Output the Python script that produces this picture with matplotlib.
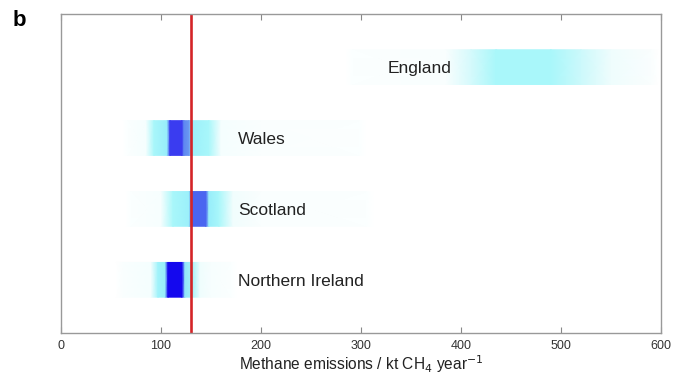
import numpy as np
import matplotlib
matplotlib.use("Agg")
from matplotlib import pyplot as plt
from matplotlib.colors import LinearSegmentedColormap

plt.rcParams['font.family'] = ['Liberation Sans', 'DejaVu Sans']

# regions, bottom to top
regions = ["Northern Ireland", "Scotland", "Wales", "England"]

# emission sample points (kt CH4/yr) and relative probability density
ni_x = [55, 62, 90, 97, 104, 107, 121, 124, 131, 139, 150, 170, 175]
ni_d = [0, 0.03, 0.05, 0.32, 0.34, 1.0, 1.0, 0.36, 0.32, 0.07, 0.04, 0.02, 0]

sc_x = [65, 70, 100, 112, 128, 131, 145, 148, 158, 172, 200, 305, 312]
sc_d = [0, 0.02, 0.04, 0.3, 0.33, 0.7, 0.7, 0.34, 0.3, 0.06, 0.03, 0.02, 0]

wa_x = [62, 67, 85, 93, 106, 109, 121, 123, 128, 131, 148, 160, 200, 298, 304]
wa_d = [0, 0.02, 0.05, 0.3, 0.34, 0.85, 0.85, 0.6, 0.55, 0.33, 0.3, 0.05, 0.025, 0.02, 0]

en_x = [285, 292, 385, 410, 435, 490, 520, 550, 590, 597]
en_d = [0, 0.02, 0.035, 0.15, 0.3, 0.3, 0.18, 0.07, 0.03, 0]

xs = [ni_x, sc_x, wa_x, en_x]
ds = [ni_d, sc_d, wa_d, en_d]
label_x = [177, 177, 177, 327]

# reference value (kt CH4/yr)
ref_value = 130

# white -> cyan -> blue
cmap = LinearSegmentedColormap.from_list("density", [
    (0.0, "#ffffff"),
    (0.04, "#f7fefe"),
    (0.1, "#e4fbfc"),
    (0.3, "#a8f7fa"),
    (0.34, "#98eefa"),
    (0.55, "#6a98f2"),
    (0.7, "#4a66f0"),
    (0.85, "#3a3cf0"),
    (1.0, "#1408ee"),
])

fig = plt.figure(figsize=(6.79, 3.81), dpi=100)
ax = fig.add_axes([0.0898, 0.126, 0.8837, 0.8374])

half = 0.245
for i, name in enumerate(regions):
    y0 = i + 1
    x = np.array(xs[i], dtype=float)
    d = np.array(ds[i], dtype=float)
    X, Y = np.meshgrid(x, [y0 - half, y0 + half])
    C = np.vstack([d, d])
    ax.pcolormesh(X, Y, C, cmap=cmap, vmin=0, vmax=1, shading="gouraud",
                  rasterized=True, zorder=1)
    ax.text(label_x[i], y0 - 0.02, name, fontsize=12.5, color="#222222",
            va="center", ha="left", zorder=3)

ax.plot([ref_value, ref_value], [0.27, 4.75], color="#d42428", lw=1.9, zorder=2)

ax.set_xlim(0, 600)
ax.set_ylim(0.25, 4.75)
ax.set_yticks([])
ax.set_xticks(np.arange(0, 601, 100))
ax.tick_params(axis="x", direction="in", top=True, length=4, width=0.8,
               color="#888888", labelsize=9, labelcolor="#333333", pad=5)
for s in ax.spines.values():
    s.set_color("#999999")
    s.set_linewidth(1.0)

ax.set_xlabel("Methane emissions / kt CH$_4$ year$^{-1}$", fontsize=11.2,
              color="#222222", labelpad=1)
fig.text(0.018, 0.945, "b", fontsize=16, fontweight="bold", va="center")

fig.savefig("out.png", dpi=100)
